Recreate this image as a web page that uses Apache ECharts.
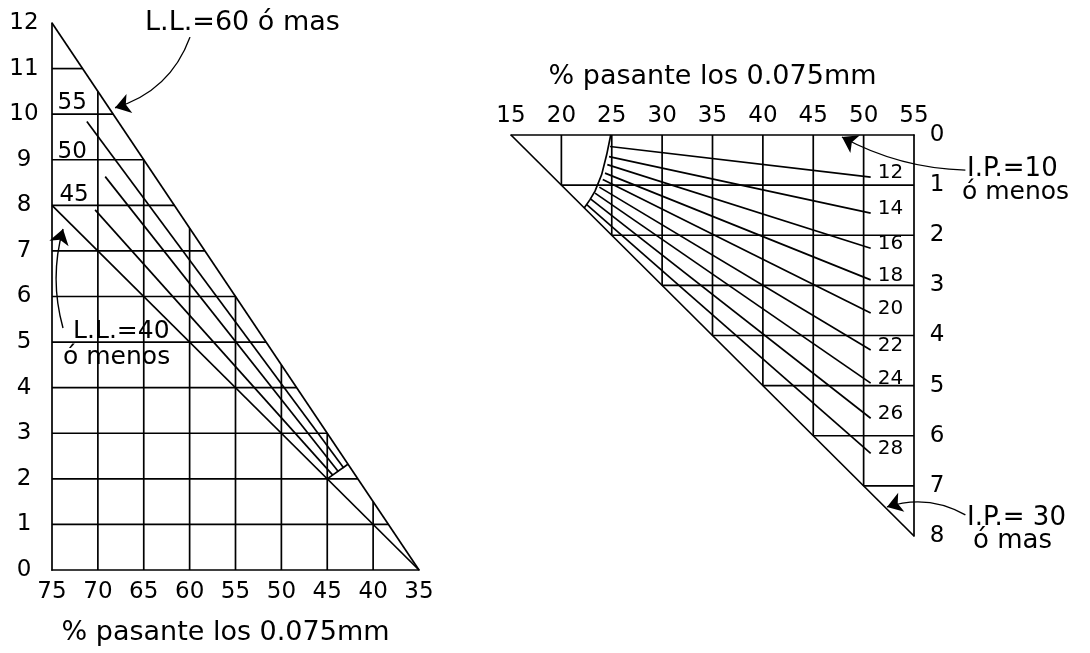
<!DOCTYPE html>
<html>
<head>
<meta charset="utf-8">
<script src="https://cdn.jsdelivr.net/npm/echarts@6/dist/echarts.min.js"></script>
<style>
  html, body { margin: 0; padding: 0; background: #fff; }
  #chart { width: 1090px; height: 653px; }
</style>
</head>
<body>
<div id="chart"></div>
<script>
// ---------- Left panel: partial index from liquid limit (L.L.) ----------
const leftFinesTicks = [75, 70, 65, 60, 55, 50, 45, 40, 35];
const leftIndexTicks = [0, 1, 2, 3, 4, 5, 6, 7, 8, 9, 10, 11, 12];
const llUpper = [[75, 12], [35, 0]];          // L.L. = 60 or more
const llLower = [[75, 8], [35, 0]];           // L.L. = 40 or less
const llValues = ['45', '50', '55'];
const llStart = [[70.3, 7.90], [69.2, 8.63], [71.2, 9.84]];
const llEnd = [[44.4, 2.08], [43.8, 2.16], [43.2, 2.24]];
const llTie = [[45, 2], [42.75, 2.32]];
const llLabelAt = [[72.6, 8.23], [72.8, 9.17], [72.8, 10.25]];

// ---------- Right panel: partial index from plasticity index (I.P.) ----------
const rightFinesTicks = [15, 20, 25, 30, 35, 40, 45, 50, 55];
const rightIndexTicks = [0, 1, 2, 3, 4, 5, 6, 7, 8];
const ipUpper = [[15, 0], [55, 8]];           // I.P. = 30 or more
const ipEdge = [[24.9, 0], [24.5, 0.39], [24.0, 0.79], [23.34, 1.12], [22.84, 1.29], [22.25, 1.46]];
const ipValues = ['12', '14', '16', '18', '20', '22', '24', '26', '28'];
const ipStart = [[24.83, 0.23], [24.73, 0.43], [24.56, 0.59], [24.33, 0.76], [24.11, 0.89],
                 [23.77, 1.04], [23.34, 1.16], [22.92, 1.28], [22.52, 1.39]];
const ipEnd = [[50.7, 0.84], [50.7, 1.56], [50.7, 2.26], [50.7, 2.89], [50.7, 3.55],
               [50.7, 4.29], [50.7, 4.95], [50.7, 5.65], [50.7, 6.35]];

// ---------- Notes and leader arrows ----------
const leftNotes = ['L.L.=60 ó mas', 'L.L.=40', 'ó menos'];
const leftNoteAt = [[64.86, 12.0], [72.7, 5.24], [73.8, 4.66]];
const leftNoteSize = [27, 25, 25];
const leftArrows = [[[59.96, 11.69], [68.13, 10.14]], [[73.8, 5.31], [73.8, 7.48]]];
const leftArrowBend = [0.25, 0.14];

const rightNotes = ['I.P.=10', 'ó menos', 'I.P.= 30', 'ó mas'];
const rightNoteAt = [[60.26, 0.68], [59.76, 1.14], [60.26, 7.64], [60.86, 8.10]];
const rightNoteSize = [26, 25, 26, 26];
const rightArrows = [[[60.1, 0.70], [47.85, 0.04]], [[60.1, 7.58], [52.32, 7.42]]];
const rightArrowBend = [0.12, -0.22];

const axisTitle = '% pasante los 0.075mm';

// ---------- helpers ----------
const FONT = 'DejaVu Sans';
const INK = '#000';
const LW = 1.7;

function xAt(seg, y) {
  const [[x1, y1], [x2, y2]] = seg;
  return x1 + (y - y1) * (x2 - x1) / (y2 - y1);
}
function yAt(seg, x) {
  const [[x1, y1], [x2, y2]] = seg;
  return y1 + (x - x1) * (y2 - y1) / (x2 - x1);
}

function pathSeries(idx, paths) {
  return {
    type: 'lines', coordinateSystem: 'cartesian2d',
    xAxisIndex: idx, yAxisIndex: idx,
    polyline: true, silent: true, clip: false,
    lineStyle: { color: INK, width: LW, opacity: 1 },
    data: paths.map(c => ({ coords: c }))
  };
}

function arrowSeries(idx, arrows, bends) {
  return {
    type: 'lines', coordinateSystem: 'cartesian2d',
    xAxisIndex: idx, yAxisIndex: idx,
    silent: true, clip: false,
    symbol: ['none', 'arrow'], symbolSize: 15,
    lineStyle: { color: INK, width: 1.4, opacity: 1 },
    itemStyle: { color: INK },
    data: arrows.map((c, i) => ({ coords: c, lineStyle: { curveness: bends[i] } }))
  };
}

// clipped grid of the left triangle
const leftGrid = [];
leftIndexTicks.filter(y => y > 0 && y < 12).forEach(y => leftGrid.push([[75, y], [xAt(llUpper, y), y]]));
leftFinesTicks.filter(x => x > 35 && x < 75).forEach(x => leftGrid.push([[x, 0], [x, yAt(llUpper, x)]]));

// clipped grid of the right triangle
const rightGrid = [];
rightIndexTicks.filter(y => y > 0 && y < 8).forEach(y => rightGrid.push([[xAt(ipUpper, y), y], [55, y]]));
rightFinesTicks.filter(x => x > 15 && x < 55).forEach(x => rightGrid.push([[x, 0], [x, yAt(ipUpper, x)]]));

const llCurves = llStart.map((s, i) => [s, llEnd[i]]);
const ipCurves = ipStart.map((s, i) => [s, ipEnd[i]]);

const tickLabel = { color: INK, fontFamily: FONT, fontSize: 23 };
const axisLine = { show: true, onZero: false, lineStyle: { color: INK, width: LW } };

const chart = echarts.init(document.getElementById('chart'), null, { renderer: 'canvas' });
chart.setOption({
  backgroundColor: '#fff',
  animation: false,
  grid: [
    { left: 52, top: 23, width: 367, height: 547 },
    { left: 511, top: 135, width: 403, height: 401 }
  ],
  xAxis: [
    {
      gridIndex: 0, type: 'value', min: 35, max: 75, interval: 5, inverse: true,
      position: 'bottom', axisLine, axisTick: { show: false }, splitLine: { show: false },
      axisLabel: Object.assign({ margin: 11 }, tickLabel),
      name: axisTitle, nameLocation: 'middle', nameGap: 49,
      nameTextStyle: { color: INK, fontFamily: FONT, fontSize: 27, padding: [0, 20, 0, 0] }
    },
    {
      gridIndex: 1, type: 'value', min: 15, max: 55, interval: 5,
      position: 'top', axisLine, axisTick: { show: false }, splitLine: { show: false },
      axisLabel: Object.assign({ margin: 7 }, tickLabel),
      name: axisTitle, nameLocation: 'middle', nameGap: 45,
      nameTextStyle: { color: INK, fontFamily: FONT, fontSize: 27 }
    }
  ],
  yAxis: [
    {
      gridIndex: 0, type: 'value', min: 0, max: 12, interval: 1,
      position: 'left', axisLine, axisTick: { show: false }, splitLine: { show: false },
      axisLabel: Object.assign({ margin: 28, align: 'center' }, tickLabel)
    },
    {
      gridIndex: 1, type: 'value', min: 0, max: 8, interval: 1, inverse: true,
      position: 'right', axisLine, axisTick: { show: false }, splitLine: { show: false },
      axisLabel: Object.assign({ margin: 23, align: 'center' }, tickLabel)
    }
  ],
  series: [
    // left panel
    pathSeries(0, leftGrid),
    pathSeries(0, [llUpper, llLower, llTie]),
    pathSeries(0, llCurves),
    arrowSeries(0, leftArrows, leftArrowBend),
    // right panel
    pathSeries(1, rightGrid),
    pathSeries(1, [ipUpper, ipEdge]),
    pathSeries(1, ipCurves),
    arrowSeries(1, rightArrows, rightArrowBend)
  ]
});

// Text placed at data positions through each grid's own scales
function placeText(gridIndex, at, text, size, align, dx, dy) {
  const p = chart.convertToPixel({ gridIndex }, at);
  return {
    type: 'text', x: p[0] + dx, y: p[1] + dy, silent: true, z: 10,
    style: {
      text, fill: INK, fontFamily: FONT, fontSize: size,
      align, verticalAlign: 'middle', textAlign: align, textVerticalAlign: 'middle'
    }
  };
}

const texts = [];
llLabelAt.forEach((p, i) => texts.push(placeText(0, p, llValues[i], 23, 'center', 0, 0)));
leftNoteAt.forEach((p, i) => texts.push(placeText(0, p, leftNotes[i], leftNoteSize[i], 'left', 0, 0)));
ipEnd.forEach((p, i) => texts.push(placeText(1, p, ipValues[i], 20, 'left', 7, -4)));
rightNoteAt.forEach((p, i) => texts.push(placeText(1, p, rightNotes[i], rightNoteSize[i], 'left', 0, 0)));

chart.setOption({ graphic: { elements: texts } });
</script>
</body>
</html>
